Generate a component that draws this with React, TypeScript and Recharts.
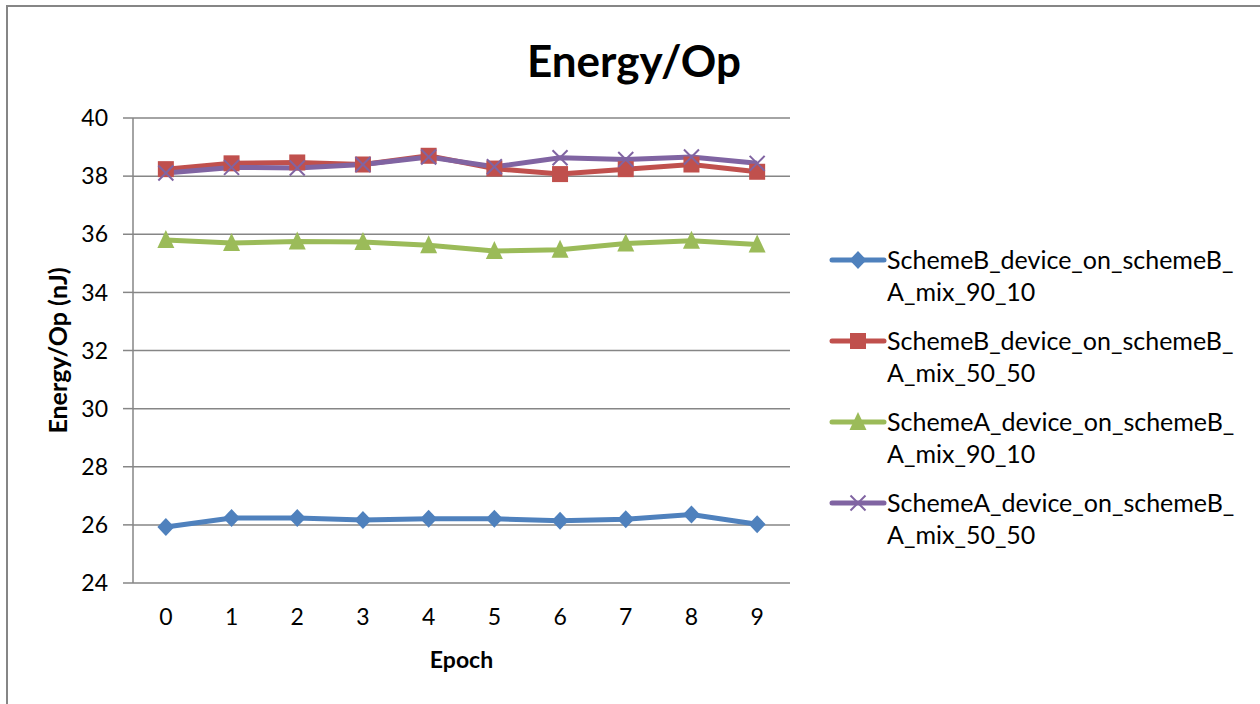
import React from "react";
import {
  LineChart,
  Line,
  XAxis,
  YAxis,
  CartesianGrid,
} from "recharts";

// エポック番号
const epochs = [0, 1, 2, 3, 4, 5, 6, 7, 8, 9];

// 各シリーズの Energy/Op (nJ)
const schemeBMix9010 = [25.93, 26.24, 26.24, 26.17, 26.21, 26.21, 26.14, 26.19, 26.36, 26.02];
const schemeBMix5050 = [38.24, 38.44, 38.47, 38.4, 38.7, 38.26, 38.07, 38.24, 38.4, 38.15];
const schemeAMix9010 = [35.8, 35.7, 35.75, 35.73, 35.62, 35.42, 35.47, 35.68, 35.78, 35.65];
const schemeAMix5050 = [38.11, 38.3, 38.28, 38.4, 38.66, 38.32, 38.63, 38.57, 38.66, 38.44];

const yTicks = [24, 26, 28, 30, 32, 34, 36, 38, 40];
const edgeTicks = [-0.5, 0.5, 1.5, 2.5, 3.5, 4.5, 5.5, 6.5, 7.5, 8.5, 9.5];

const FONT = "Lato, 'Open Sans', sans-serif";
const GRID = "#868686";

type Marker = "diamond" | "square" | "triangle" | "cross";

const series: { key: string; name: string[]; color: string; marker: Marker; values: number[] }[] = [
  { key: "b9010", name: ["SchemeB_device_on_schemeB_", "A_mix_90_10"], color: "#4F81BD", marker: "diamond", values: schemeBMix9010 },
  { key: "b5050", name: ["SchemeB_device_on_schemeB_", "A_mix_50_50"], color: "#C0504D", marker: "square", values: schemeBMix5050 },
  { key: "a9010", name: ["SchemeA_device_on_schemeB_", "A_mix_90_10"], color: "#9BBB59", marker: "triangle", values: schemeAMix9010 },
  { key: "a5050", name: ["SchemeA_device_on_schemeB_", "A_mix_50_50"], color: "#8064A2", marker: "cross", values: schemeAMix5050 },
];

const data = epochs.map((e, i) => {
  const row: Record<string, number> = { epoch: e };
  series.forEach((s) => (row[s.key] = s.values[i]));
  return row;
});

/** マーカー形状 */
const MarkerShape = ({ cx, cy, marker, color }: { cx: number; cy: number; marker: Marker; color: string }) => {
  if (marker === "diamond") {
    return <polygon points={`${cx},${cy - 9} ${cx + 8.5},${cy} ${cx},${cy + 9} ${cx - 8.5},${cy}`} fill={color} />;
  }
  if (marker === "square") {
    return <rect x={cx - 8} y={cy - 8} width={16} height={16} fill={color} />;
  }
  if (marker === "triangle") {
    return <polygon points={`${cx},${cy - 10} ${cx + 8.5},${cy + 8} ${cx - 8.5},${cy + 8}`} fill={color} />;
  }
  return (
    <g stroke={color} strokeWidth={2}>
      <line x1={cx - 7.5} y1={cy - 7.5} x2={cx + 7.5} y2={cy + 7.5} />
      <line x1={cx + 7.5} y1={cy - 7.5} x2={cx - 7.5} y2={cy + 7.5} />
    </g>
  );
};

const makeDot = (marker: Marker, color: string) => (props: any) => {
  const { cx, cy, index } = props;
  if (cx == null || cy == null) return <g key={index} />;
  return <MarkerShape key={index} cx={cx} cy={cy} marker={marker} color={color} />;
};

export default function App() {
  return (
    <div style={{ position: "absolute", left: 0, top: 0, width: 1260, height: 704, background: "#fff", overflow: "hidden", fontFamily: FONT }}>
      {/* 外枠 */}
      <div style={{ position: "absolute", left: 6, top: 5, width: 1300, height: 800, borderLeft: `2px solid ${GRID}`, borderTop: `2px solid ${GRID}` }} />
      {/* タイトル */}
      <div style={{ position: "absolute", left: 434, width: 400, top: 32, textAlign: "center", fontSize: 44, fontWeight: 700, lineHeight: "56px" }}>
        Energy/Op
      </div>
      <div style={{ position: "absolute", left: 0, top: 0 }}>
        <LineChart
          width={1260}
          height={704}
          data={data}
          margin={{ top: 118, right: 470, left: 13, bottom: 31 }}
        >
          <CartesianGrid horizontal vertical={false} stroke={GRID} strokeWidth={1.5} />
          <XAxis
            xAxisId="edge"
            dataKey="epoch"
            type="number"
            domain={[-0.5, 9.5]}
            ticks={edgeTicks}
            tick={false}
            tickSize={10}
            tickLine={{ stroke: GRID, strokeWidth: 1.5 }}
            axisLine={{ stroke: GRID, strokeWidth: 1.5 }}
            height={0}
          />
          <XAxis
            dataKey="epoch"
            type="number"
            domain={[-0.5, 9.5]}
            ticks={epochs}
            interval={0}
            tickLine={false}
            axisLine={false}
            tickSize={10}
            tickMargin={16}
            tick={{ fontSize: 23, fill: "#000", fontFamily: FONT }}
            height={90}
            label={{ value: "Epoch", position: "insideBottom", offset: 5, style: { fontSize: 23, fontWeight: 700, fill: "#000", fontFamily: FONT } }}
          />
          <YAxis
            domain={[24, 40]}
            ticks={yTicks}
            interval={0}
            width={120}
            tickSize={10}
            tickMargin={15}
            tickLine={{ stroke: GRID, strokeWidth: 1.5 }}
            axisLine={{ stroke: GRID, strokeWidth: 1.5 }}
            tick={{ fontSize: 23, fill: "#000", fontFamily: FONT }}
            label={{ value: "Energy/Op (nJ)", angle: -90, position: "insideLeft", offset: 45, style: { fontSize: 25, fontWeight: 700, fill: "#000", textAnchor: "middle", fontFamily: FONT } }}
          />
          {series.map((s) => (
            <Line
              key={s.key}
              dataKey={s.key}
              type="linear"
              stroke={s.color}
              strokeWidth={5}
              dot={makeDot(s.marker, s.color)}
              activeDot={false}
              isAnimationActive={false}
            />
          ))}
        </LineChart>
      </div>
      {/* 凡例 */}
      <div style={{ position: "absolute", left: 829, top: 243 }}>
        {series.map((s) => (
          <div key={s.key} style={{ display: "flex", alignItems: "flex-start", height: 81 }}>
            <svg width={58} height={34} style={{ flexShrink: 0 }}>
              <line x1={3} y1={17} x2={55} y2={17} stroke={s.color} strokeWidth={5} strokeLinecap="round" />
              <MarkerShape cx={29} cy={17} marker={s.marker} color={s.color} />
            </svg>
            <div style={{ fontSize: 25, lineHeight: "32px", color: "#000", marginTop: 0 }}>
              {s.name[0]}
              <br />
              {s.name[1]}
            </div>
          </div>
        ))}
      </div>
    </div>
  );
}
